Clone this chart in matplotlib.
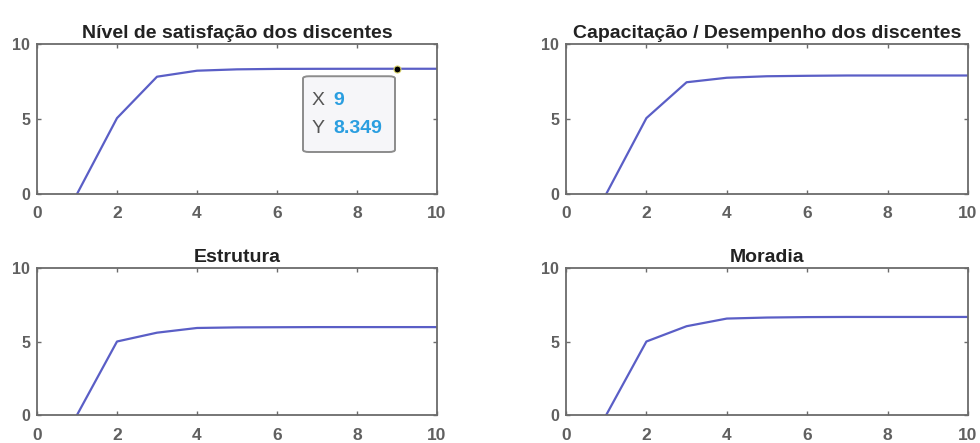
import matplotlib
matplotlib.use("Agg")
from matplotlib import pyplot as plt
from matplotlib.patches import FancyBboxPatch

plt.rcParams["font.family"] = ["Liberation Sans", "DejaVu Sans"]

x = [1, 2, 3, 4, 5, 6, 7, 8, 9, 10]

satisfacao = [0, 5.06, 7.82, 8.22, 8.31, 8.34, 8.345, 8.348, 8.349, 8.349]
capacitacao = [0, 5.06, 7.45, 7.75, 7.85, 7.88, 7.9, 7.9, 7.9, 7.9]
estrutura = [0, 5.0, 5.6, 5.92, 5.96, 5.97, 5.98, 5.98, 5.98, 5.98]
moradia = [0, 5.0, 6.04, 6.56, 6.63, 6.66, 6.67, 6.67, 6.67, 6.67]

titles = [
    "Nível de satisfação dos discentes",
    "Capacitação / Desempenho dos discentes",
    "Estrutura",
    "Moradia",
]
series = [satisfacao, capacitacao, estrutura, moradia]

tip_x = 9
tip_y = satisfacao[8]

W, H = 980, 443
fig = plt.figure(figsize=(W / 100, H / 100), dpi=100)

# axes boxes in pixels: left, top, right, bottom
boxes = [
    (37, 44, 437, 194),
    (566, 44, 968, 194),
    (37, 268, 437, 415),
    (566, 268, 968, 415),
]

line_color = "#5a5ec6"
axis_color = "#6b6b6b"
label_color = "#606060"

axes = []
for (l, t, r, b), title, y in zip(boxes, titles, series):
    ax = fig.add_axes([l / W, 1 - b / H, (r - l) / W, (b - t) / H])
    ax.plot(x, y, color=line_color, lw=1.6)
    ax.set_xlim(0, 10)
    ax.set_ylim(0, 10)
    ax.set_xticks([0, 2, 4, 6, 8, 10])
    ax.set_yticks([0, 5, 10])
    ax.tick_params(direction="in", length=3, width=1, colors=axis_color,
                   labelcolor=label_color, top=True, right=True)
    ax.tick_params(axis="x", labelsize=12.5, pad=9)
    ax.tick_params(axis="y", labelsize=11.5, pad=5)
    for lab in ax.get_xticklabels() + ax.get_yticklabels():
        lab.set_fontweight("bold")
    for s in ax.spines.values():
        s.set_color(axis_color)
        s.set_linewidth(1.3)
    ax.set_title(title, fontsize=14, fontweight="bold", color="#222222", pad=4)
    axes.append(ax)

# data tip on first subplot
ax0 = axes[0]
ax0.plot([tip_x], [tip_y], marker="o", ms=5, color="black",
         markeredgecolor="#d8d26a", markeredgewidth=0.8, zorder=5)
box = FancyBboxPatch((6.65, 2.8), 2.3, 5.05, boxstyle="round,pad=0,rounding_size=0.15",
                     transform=ax0.transData, facecolor="#f6f6f9",
                     edgecolor="#8c8c8c", lw=1.4, zorder=4)
ax0.add_patch(box)
ax0.text(6.87, 6.2, "X", color="#555555", fontsize=14, va="center", zorder=6)
ax0.text(7.4, 6.2, f"{tip_x}", color="#2a9ee0", fontsize=14, fontweight="bold",
         va="center", zorder=6)
ax0.text(6.87, 4.35, "Y", color="#555555", fontsize=14, va="center", zorder=6)
ax0.text(7.4, 4.35, f"{tip_y}", color="#2a9ee0", fontsize=14, fontweight="bold",
         va="center", zorder=6)

fig.savefig("out.png", dpi=100)
